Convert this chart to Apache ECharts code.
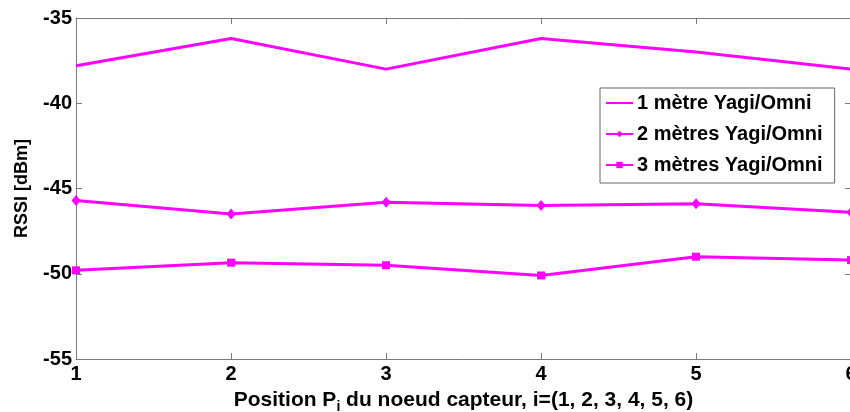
<!DOCTYPE html>
<html>
<head>
<meta charset="utf-8">
<script src="https://cdn.jsdelivr.net/npm/echarts@6/dist/echarts.min.js"></script>
<style>
  html, body { margin: 0; padding: 0; background: #fff; }
  #chart { width: 850px; height: 412px; }
</style>
</head>
<body>
<div id="chart"></div>
<script>
  // positions des noeuds capteurs
  const positions = [1, 2, 3, 4, 5, 6]
  const seriesNames = ['1 mètre Yagi/Omni', '2 mètres Yagi/Omni', '3 mètres Yagi/Omni']
  const rssi1m = [-37.8, -36.2, -38.0, -36.2, -37.0, -38.0]
  const rssi2m = [-45.7, -46.5, -45.8, -46.0, -45.9, -46.4]
  const rssi3m = [-49.8, -49.35, -49.5, -50.1, -49.0, -49.2]
  const yTicks = [-55, -50, -45, -40, -35]

  const magenta = '#ff00ff'
  const axisGray = '#7a7a7a'
  const font = 'Liberation Sans, Arial, sans-serif'

  const pair = (ys) => positions.map((x, i) => [x, ys[i]])

  const chart = echarts.init(document.getElementById('chart'))

  const tickStyle = { show: true, inside: true, length: 6, lineStyle: { color: axisGray, width: 1 } }
  const labelStyle = { color: '#000', fontFamily: font, fontWeight: 'bold', fontSize: 20 }

  const option = {
    animation: false,
    backgroundColor: '#fff',
    grid: { left: 76, right: -1, top: 18, bottom: 53, containLabel: false, outerBoundsMode: 'none' },
    legend: {
      orient: 'vertical',
      left: 600,
      top: 88,
      padding: [5, 12, 8, 5],
      itemGap: 11,
      itemWidth: 27,
      itemHeight: 8,
      backgroundColor: '#fff',
      borderColor: '#666',
      borderWidth: 1,
      borderRadius: 0,
      textStyle: { color: '#000', fontFamily: font, fontWeight: 'bold', fontSize: 20, padding: [0, 0, 0, -1] },
      data: [
        { name: seriesNames[0], itemStyle: { color: 'rgba(0,0,0,0)', borderColor: 'rgba(0,0,0,0)', borderWidth: 0 } },
        seriesNames[1],
        seriesNames[2]
      ]
    },
    xAxis: [{
      type: 'value',
      min: 1,
      max: 6,
      interval: 1,
      name: 'Position P{sub|i} du noeud capteur, i=(1, 2, 3, 4, 5, 6)',
      nameLocation: 'middle',
      nameGap: 27,
      nameTextStyle: {
        color: '#000', fontFamily: font, fontWeight: 'bold', fontSize: 21,
        rich: {
          sub: { color: '#000', fontFamily: font, fontWeight: 'bold', fontSize: 14, padding: [14, 0, 0, 0] }
        }
      },
      axisLine: { show: true, lineStyle: { color: axisGray, width: 1 } },
      axisTick: tickStyle,
      axisLabel: Object.assign({ margin: 5 }, labelStyle),
      splitLine: { show: false }
    }, {
      type: 'value',
      position: 'top',
      min: 1,
      max: 6,
      interval: 1,
      axisLine: { show: true, lineStyle: { color: axisGray, width: 1 } },
      axisTick: tickStyle,
      axisLabel: { show: false },
      splitLine: { show: false }
    }],
    yAxis: [{
      type: 'value',
      min: yTicks[0],
      max: yTicks[yTicks.length - 1],
      interval: 5,
      name: 'RSSI [dBm]',
      nameLocation: 'middle',
      nameGap: 45,
      nameTextStyle: { color: '#000', fontFamily: font, fontWeight: 'bold', fontSize: 18 },
      axisLine: { show: true, lineStyle: { color: axisGray, width: 1 } },
      axisTick: tickStyle,
      axisLabel: Object.assign({ margin: 4 }, labelStyle),
      splitLine: { show: false }
    }, {
      type: 'value',
      position: 'right',
      min: yTicks[0],
      max: yTicks[yTicks.length - 1],
      interval: 5,
      axisLine: { show: true, lineStyle: { color: axisGray, width: 1 } },
      axisTick: tickStyle,
      axisLabel: { show: false },
      splitLine: { show: false }
    }],
    series: [{
      name: seriesNames[0],
      type: 'line',
      data: pair(rssi1m),
      symbol: 'none',
      lineStyle: { color: magenta, width: 3 },
      itemStyle: { color: magenta }
    }, {
      name: seriesNames[1],
      type: 'line',
      data: pair(rssi2m),
      symbol: 'diamond',
      symbolSize: [9, 11],
      lineStyle: { color: magenta, width: 3 },
      itemStyle: { color: magenta }
    }, {
      name: seriesNames[2],
      type: 'line',
      data: pair(rssi3m),
      symbol: 'rect',
      symbolSize: 8,
      lineStyle: { color: magenta, width: 3 },
      itemStyle: { color: magenta }
    }]
  }

  chart.setOption(option)
</script>
</body>
</html>
